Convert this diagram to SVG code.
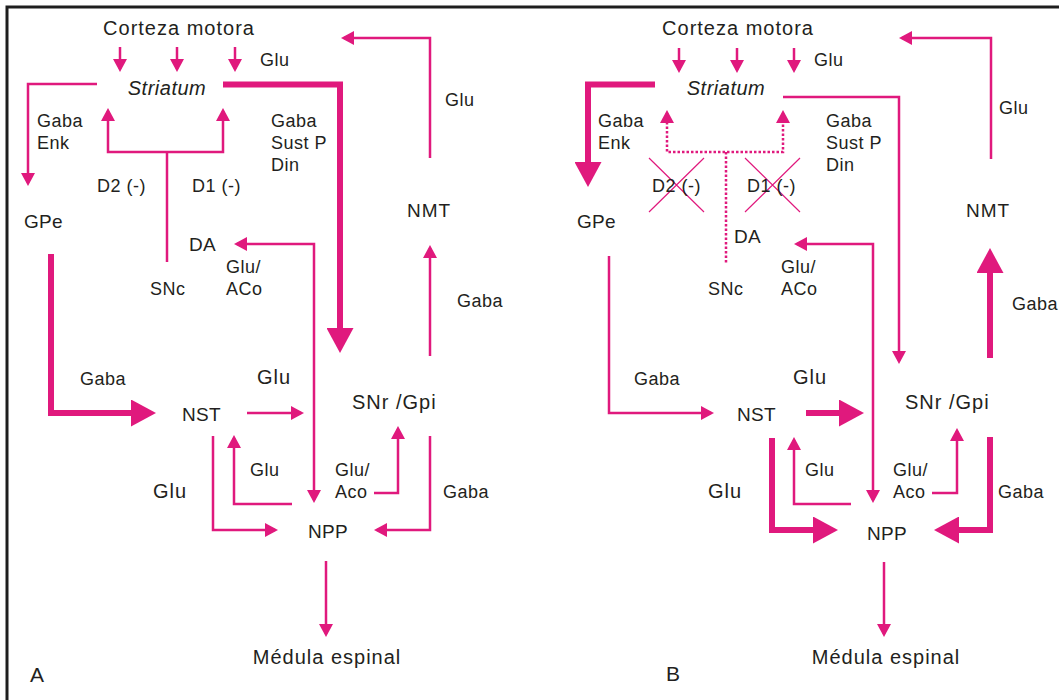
<svg xmlns="http://www.w3.org/2000/svg" width="1059" height="700" viewBox="0 0 1059 700">
  <style>
    text { font-family: "Liberation Sans", Arial, sans-serif; fill: #231F20; }
    .big { font-size: 20px; letter-spacing: 1px; }
    .cap { font-size: 19px; letter-spacing: 0.3px; }
    .sm { font-size: 18px; letter-spacing: 0.5px; }
    .md { font-size: 20px; letter-spacing: 1px; }
    .it { font-style: italic; font-size: 20px; letter-spacing: 0.5px; }
    .mid { text-anchor: middle; }
    .thin { fill: none; stroke: #E0197D; stroke-width: 2.5; marker-end: url(#ah); }
    .plain { fill: none; stroke: #E0197D; stroke-width: 2.5; }
    .both { marker-start: url(#ah); }
    .thick { fill: none; stroke: #E0197D; stroke-width: 6; marker-end: url(#ahT); }
    .dot { stroke-dasharray: 2.5 2; }
    .cross { fill: none; stroke: #E0197D; stroke-width: 1.2; }
  </style>
  <defs>
    <marker id="ah" markerUnits="userSpaceOnUse" markerWidth="13" markerHeight="14" refX="10" refY="7" orient="auto-start-reverse">
      <path d="M0,0 L13,7 L0,14 z" fill="#E0197D"/>
    </marker>
    <marker id="ahT" markerUnits="userSpaceOnUse" markerWidth="25" markerHeight="27" refX="19" refY="13.5" orient="auto">
      <path d="M0,0 L25,13.5 L0,27 z" fill="#E0197D"/>
    </marker>
  </defs>

  <rect x="0" y="0" width="1059" height="700" fill="#ffffff"/>
  <path d="M7,700 V7 H1059" fill="none" stroke="#1E1E1E" stroke-width="3"/>

  <!-- ================= PANEL A ================= -->
  <g id="connectors-A">
    <path class="thin" d="M120,47 V69"/>
    <path class="thin" d="M177,47 V69"/>
    <path class="thin" d="M235,47 V69"/>
    <path class="thin" d="M97,84 H28 V183"/>
    <path class="thick" d="M223,84.5 H340 V347"/>
    <path class="thin both" d="M108,111 V152 H223 V111"/>
    <path class="plain" d="M167,152 V262"/>
    <path class="thick" d="M51,254 V413 H150"/>
    <path class="thin" d="M247,413 H301"/>
    <path class="thin both" d="M237,244 H314 V500"/>
    <path class="thin" d="M430,158 V38 H344"/>
    <path class="thin" d="M430,356 V248"/>
    <path class="thin" d="M430,436 V530 H377"/>
    <path class="thin" d="M374,493 H398 V429"/>
    <path class="thin" d="M292,504 H234 V438"/>
    <path class="thin" d="M213,436 V530 H275"/>
    <path class="thin" d="M326,561 V634"/>
  </g>

  <g id="nodes-A">
    <g id="a-corteza"><text class="big mid" x="179" y="35">Corteza motora</text></g>
    <g id="a-striatum"><text class="it mid" x="167" y="95">Striatum</text></g>
    <g id="a-gpe"><text class="cap" x="24" y="228">GPe</text></g>
    <g id="a-da"><text class="cap" x="189" y="251">DA</text></g>
    <g id="a-snc"><text class="sm" x="150" y="295">SNc</text></g>
    <g id="a-nmt"><text class="cap" x="407" y="217" style="letter-spacing:1px">NMT</text></g>
    <g id="a-nst"><text class="cap" x="182" y="421">NST</text></g>
    <g id="a-snr"><text class="big" x="352" y="409">SNr /Gpi</text></g>
    <g id="a-npp"><text class="cap" x="308" y="538">NPP</text></g>
    <g id="a-medula"><text class="big mid" x="327" y="664">Médula espinal</text></g>
    <g id="a-label"><text class="md" x="30" y="682" style="font-size:21px">A</text></g>
  </g>

  <g id="labels-A">
    <text class="sm" x="260" y="66">Glu</text>
    <text class="sm" x="37" y="127">Gaba</text>
    <text class="sm" x="37" y="149">Enk</text>
    <text class="sm" x="271" y="127">Gaba</text>
    <text class="sm" x="271" y="149">Sust P</text>
    <text class="sm" x="271" y="171">Din</text>
    <text class="sm" x="97" y="192">D2 (-)</text>
    <text class="sm" x="192" y="192">D1 (-)</text>
    <text class="sm" x="226" y="273">Glu/</text>
    <text class="sm" x="226" y="295">ACo</text>
    <text class="sm" x="445" y="106">Glu</text>
    <text class="sm" x="457" y="307">Gaba</text>
    <text class="sm" x="80" y="385">Gaba</text>
    <text class="md" x="257" y="384">Glu</text>
    <text class="sm" x="250" y="476">Glu</text>
    <text class="sm" x="335" y="476">Glu/</text>
    <text class="sm" x="335" y="498">Aco</text>
    <text class="sm" x="443" y="498">Gaba</text>
    <text class="md" x="153" y="498">Glu</text>
  </g>

  <!-- ================= PANEL B ================= -->
  <g id="connectors-B">
    <path class="thin" d="M679,48 V70"/>
    <path class="thin" d="M737,48 V70"/>
    <path class="thin" d="M794,48 V70"/>
    <path class="thick" d="M655,84.5 H588 V181"/>
    <path class="thin" d="M783,97 H899 V361"/>
    <path class="thin both dot" d="M667,113 V152 H783 V113"/>
    <path class="plain dot" d="M726,152 V263"/>
    <path class="cross" d="M649,158 L704,212 M704,158 L649,212"/>
    <path class="cross" d="M745,158 L800,212 M800,158 L745,212"/>
    <path class="thin" d="M609,256 V413 H711"/>
    <path class="thick" d="M806,413 H858"/>
    <path class="thin both" d="M797,244 H873 V500"/>
    <path class="thin" d="M991,159 V38 H902"/>
    <path class="thick" d="M990,358 V254"/>
    <path class="thick" d="M990,437 V530 H940"/>
    <path class="thin" d="M932,493 H957 V431"/>
    <path class="thin" d="M851,504 H794 V440"/>
    <path class="thick" d="M772,438 V530 H832"/>
    <path class="thin" d="M884,562 V634"/>
  </g>

  <g id="nodes-B">
    <g id="b-corteza"><text class="big mid" x="738" y="35">Corteza motora</text></g>
    <g id="b-striatum"><text class="it mid" x="726" y="95">Striatum</text></g>
    <g id="b-gpe"><text class="cap" x="577" y="228">GPe</text></g>
    <g id="b-da"><text class="cap" x="734" y="243">DA</text></g>
    <g id="b-snc"><text class="sm" x="708" y="295">SNc</text></g>
    <g id="b-nmt"><text class="cap" x="966" y="217" style="letter-spacing:1px">NMT</text></g>
    <g id="b-nst"><text class="cap" x="737" y="421">NST</text></g>
    <g id="b-snr"><text class="big" x="905" y="409">SNr /Gpi</text></g>
    <g id="b-npp"><text class="cap" x="867" y="540">NPP</text></g>
    <g id="b-medula"><text class="big mid" x="886" y="664">Médula espinal</text></g>
    <g id="b-label"><text class="md" x="666" y="681" style="font-size:21px">B</text></g>
  </g>

  <g id="labels-B">
    <text class="sm" x="814" y="66">Glu</text>
    <text class="sm" x="598" y="127">Gaba</text>
    <text class="sm" x="598" y="149">Enk</text>
    <text class="sm" x="826" y="127">Gaba</text>
    <text class="sm" x="826" y="149">Sust P</text>
    <text class="sm" x="826" y="171">Din</text>
    <text class="sm" x="652" y="192">D2 (-)</text>
    <text class="sm" x="747" y="192">D1 (-)</text>
    <text class="sm" x="781" y="273">Glu/</text>
    <text class="sm" x="781" y="295">ACo</text>
    <text class="sm" x="999" y="114">Glu</text>
    <text class="sm" x="1012" y="310">Gaba</text>
    <text class="sm" x="634" y="385">Gaba</text>
    <text class="md" x="793" y="384">Glu</text>
    <text class="sm" x="805" y="476">Glu</text>
    <text class="sm" x="893" y="476">Glu/</text>
    <text class="sm" x="893" y="498">Aco</text>
    <text class="sm" x="998" y="498">Gaba</text>
    <text class="md" x="708" y="498">Glu</text>
  </g>
</svg>
